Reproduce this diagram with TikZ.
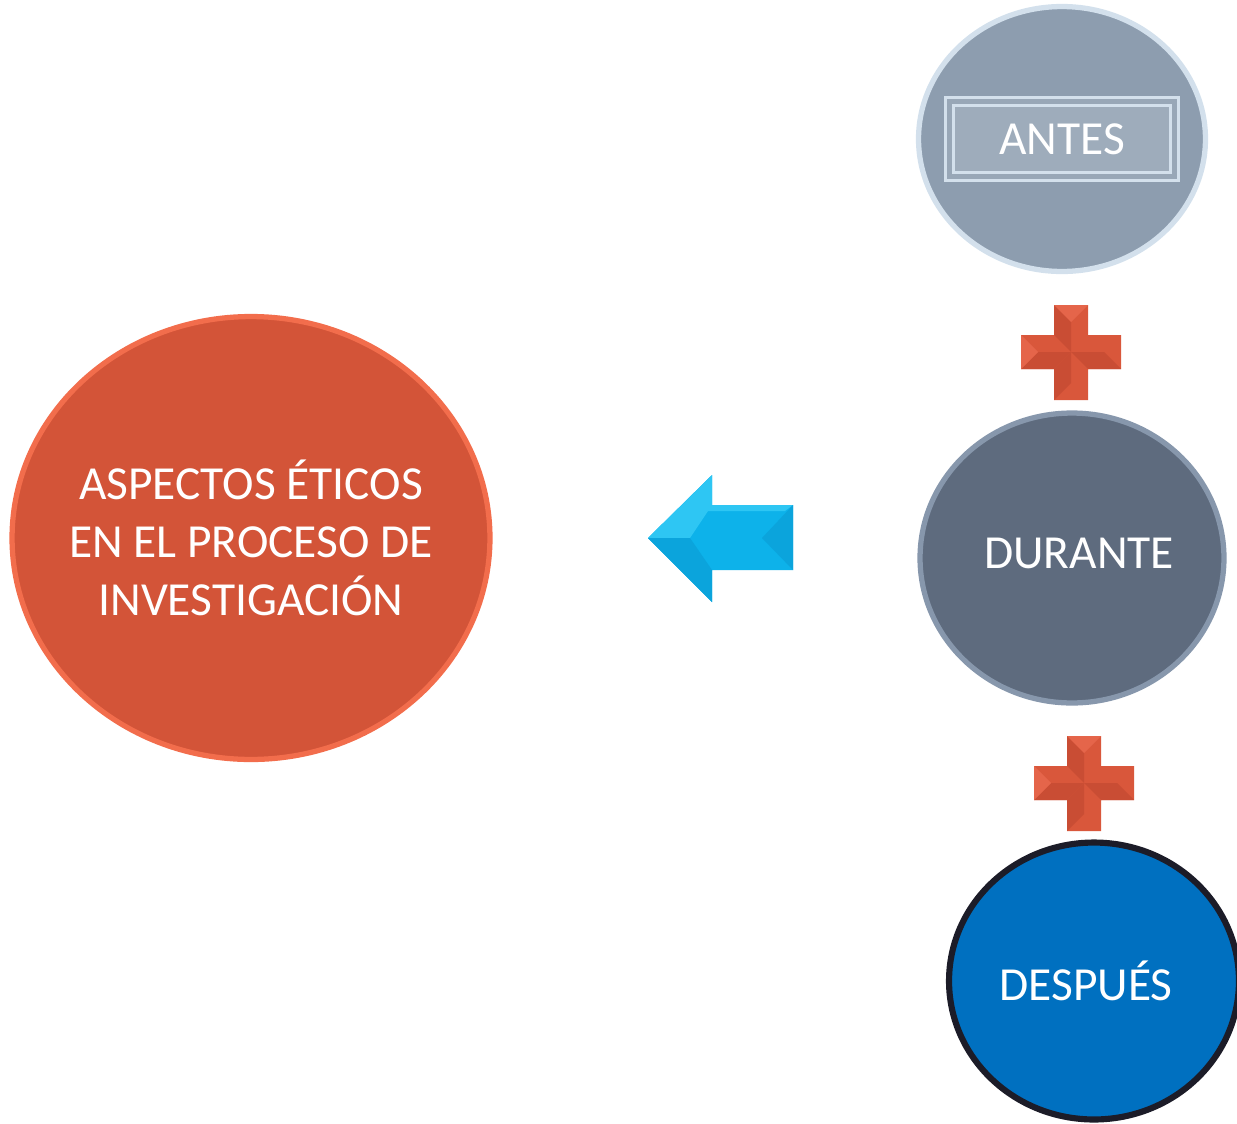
\documentclass[tikz,border=0pt]{standalone}
\usepackage{fontspec}
\setmainfont{Carlito}
\usepackage{tikz}
\usetikzlibrary{shapes.geometric}

\definecolor{rojo}{HTML}{D35438}
\definecolor{rojoborde}{HTML}{F26D4C}
\definecolor{antes}{HTML}{8D9DAF}
\definecolor{antesclaro}{HTML}{D3E0EC}
\definecolor{durante}{HTML}{5E6B7E}
\definecolor{duranteborde}{HTML}{8797AC}
\definecolor{despues}{HTML}{0070C0}
\definecolor{despuesborde}{HTML}{1C1C28}
\definecolor{flecha}{HTML}{0DB2EA}
\definecolor{flechaclaro}{HTML}{2EC6F3}
\definecolor{flechaoscuro}{HTML}{0BA4DC}
\definecolor{cruz}{HTML}{D9573B}
\definecolor{cruzoscuro}{HTML}{C94D34}
\definecolor{cruzclaro}{HTML}{E5654A}

\begin{document}
\begin{tikzpicture}[x=0.02cm,y=-0.02cm]
		\clip (0,0) rectangle (1237,1123);

		\begin{scope}[every node/.style={ellipse,inner sep=0pt,inner xsep=-20pt,text=white,align=center,
		              font=\fontsize{27}{33}\selectfont}]
		    \node[fill=rojo,draw=rojoborde,line width=3pt,
		          minimum width=9.56cm,minimum height=8.86cm] (aspectos) at (251,538)
		          {ASPECTOS ÉTICOS\\EN EL PROCESO DE\\INVESTIGACIÓN};
		    \node[fill=antes,draw=antesclaro,line width=3pt,
		          minimum width=5.74cm,minimum height=5.3cm] (antes) at (1062,139) {};
		    \node[fill=durante,draw=duranteborde,line width=3pt,
		          minimum width=6.08cm,minimum height=5.8cm] (durante) at (1072,558)
		          {\hspace*{8pt}\raisebox{5pt}{DURANTE}};
		    \node[fill=despues,draw=despuesborde,line width=3.5pt,
		          minimum width=5.8cm,minimum height=5.54cm] (despues) at (1094,981)
		          {\raisebox{-2pt}{DESPUÉS}\hspace*{9pt}};
		\end{scope}

		% marco de ANTES
		\node[rectangle,fill=antes!85!white,draw=antesclaro,line width=1.5pt,
		      double=antes!90!white,double distance=3pt,
		      minimum width=4.5cm,minimum height=1.5cm,text=white,
		      font=\fontsize{27}{33}\selectfont] (antesmarco) at (antes.center) {ANTES};

		% flecha
		\fill[flecha] (648,538) -- (712,475) -- (712,505) -- (793,505) -- (793,570)
		    -- (712,570) -- (712,602) -- cycle;
		\fill[flechaclaro] (648,538) -- (712,475) -- (712,505) -- (690,538) -- cycle;
		\fill[flechaclaro] (712,505) -- (793,505) -- (785,511) -- (700,511) -- cycle;
		\fill[flechaoscuro] (648,538) -- (690,538) -- (712,570) -- (712,602) -- cycle;
		\fill[flechaoscuro] (793,505) -- (793,570) -- (762,538) -- cycle;

		% cruces
		\foreach \cx/\cy in {1071/352,1084/783} {
		    \fill[cruz] (\cx-17,\cy-47) -- (\cx+17,\cy-47) -- (\cx+17,\cy-17) -- (\cx+50,\cy-17)
		        -- (\cx+50,\cy+17) -- (\cx+17,\cy+17) -- (\cx+17,\cy+48) -- (\cx-17,\cy+48)
		        -- (\cx-17,\cy+17) -- (\cx-50,\cy+17) -- (\cx-50,\cy-17) -- (\cx-17,\cy-17) -- cycle;
		    \fill[cruzoscuro] (\cx-17,\cy-47) -- (\cx,\cy-30) -- (\cx,\cy) -- (\cx-17,\cy-17) -- cycle;
		    \fill[cruzoscuro] (\cx-17,\cy+48) -- (\cx,\cy+31) -- (\cx,\cy) -- (\cx-17,\cy+17) -- cycle;
		    \fill[cruzoscuro] (\cx-50,\cy+17) -- (\cx-33,\cy) -- (\cx,\cy) -- (\cx-17,\cy+17) -- cycle;
		    \fill[cruzoscuro] (\cx+50,\cy+17) -- (\cx+33,\cy) -- (\cx,\cy) -- (\cx+17,\cy+17) -- cycle;
		    \fill[cruzclaro] (\cx-17,\cy-47) -- (\cx+17,\cy-47) -- (\cx,\cy-30) -- cycle;
		    \fill[cruzclaro] (\cx-50,\cy-17) -- (\cx-50,\cy+17) -- (\cx-33,\cy) -- cycle;
		}
\end{tikzpicture}
\end{document}
